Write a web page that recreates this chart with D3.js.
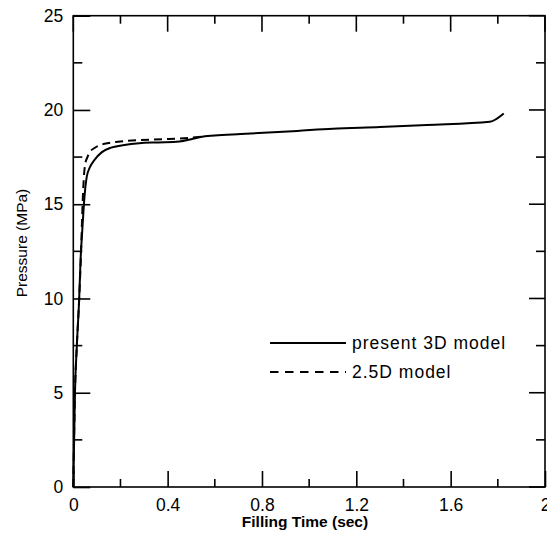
<!DOCTYPE html>
<html>
<head>
<meta charset="utf-8">
<script src="https://cdn.jsdelivr.net/npm/d3@7"></script>
<style>
  body { margin: 0; background: #fff; }
  svg { display: block; font-family: "Liberation Sans", Arial, sans-serif; }
</style>
</head>
<body>
<div class="canva-chart"></div>
<script>
// data
const time3D     = [0, 0.007, 0.015, 0.025, 0.031, 0.038, 0.045, 0.052, 0.057, 0.07, 0.09, 0.12, 0.16, 0.21, 0.28, 0.36, 0.45, 0.5, 0.54, 0.6, 0.71, 0.95, 1.1, 1.3, 1.5, 1.766, 1.825];
const pressure3D = [0, 5, 7.5, 10, 12.1, 13.6, 15, 16, 16.45, 16.95, 17.35, 17.75, 18.0, 18.13, 18.24, 18.28, 18.33, 18.45, 18.57, 18.64, 18.72, 18.89, 19.0, 19.09, 19.2, 19.37, 19.81];

const time25D     = [0, 0.007, 0.015, 0.025, 0.033, 0.038, 0.042, 0.05, 0.06, 0.071, 0.09, 0.113, 0.15, 0.2, 0.28, 0.38, 0.49, 0.56];
const pressure25D = [0, 5, 7.5, 10, 12.5, 14.5, 15.8, 17.1, 17.5, 17.78, 17.98, 18.13, 18.25, 18.33, 18.4, 18.45, 18.52, 18.6];

const xTicksMajor = [0, 0.4, 0.8, 1.2, 1.6, 2];
const xTicksMinor = [0.2, 0.6, 1.0, 1.4, 1.8];
const yTicksMajor = [0, 5, 10, 15, 20, 25];
const yTicksMinor = [2.5, 7.5, 12.5, 17.5, 22.5];

const legendLabels = ["present 3D model", "2.5D model"];

const width = 547, height = 539;
const margin = {top: 15.7, right: 2, bottom: 52, left: 73.3};
const fontFam = "'Liberation Sans', Arial, sans-serif";

const svg = d3.select(".canva-chart").append("svg")
    .attr("width", width)
    .attr("height", height);

const x = d3.scaleLinear().domain([0, 2]).range([margin.left, width - margin.right]);
const y = d3.scaleLinear().domain([0, 25]).range([height - margin.bottom, margin.top]);

// frame
svg.append("rect")
    .attr("x", x(0)).attr("y", y(25))
    .attr("width", x(2) - x(0)).attr("height", y(0) - y(25))
    .attr("fill", "none").attr("stroke", "#000").attr("stroke-width", 1.6);

// bottom axis with labels, ticks pointing inward
const xAxis = svg.append("g")
    .attr("transform", `translate(0,${y(0)})`)
    .call(d3.axisBottom(x).tickValues(xTicksMajor).tickSize(-16).tickPadding(11.5)
        .tickFormat(d => d3.format("")(d)));

// left axis with labels
const yAxis = svg.append("g")
    .attr("transform", `translate(${x(0)},0)`)
    .call(d3.axisLeft(y).tickValues(yTicksMajor).tickSize(-17).tickPadding(10));

[xAxis, yAxis].forEach(g => {
  g.attr("font-family", fontFam).attr("font-size", 17.5);
  g.select(".domain").remove();
  g.selectAll("line").attr("stroke", "#000").attr("stroke-width", 1.6);
  g.selectAll("text").attr("fill", "#000");
});

// minor ticks and mirrored ticks on top and right
const tickG = svg.append("g").attr("stroke", "#000").attr("stroke-width", 1.6);
function xTicks(vals, len) {
  tickG.selectAll(null).data(vals).join("line")
      .attr("x1", d => x(d)).attr("x2", d => x(d))
      .attr("y1", y(0)).attr("y2", y(0) - len);
  tickG.selectAll(null).data(vals).join("line")
      .attr("x1", d => x(d)).attr("x2", d => x(d))
      .attr("y1", y(25)).attr("y2", y(25) + len);
}
function yTicks(vals, len) {
  tickG.selectAll(null).data(vals).join("line")
      .attr("x1", x(0)).attr("x2", x(0) + len)
      .attr("y1", d => y(d)).attr("y2", d => y(d));
  tickG.selectAll(null).data(vals).join("line")
      .attr("x1", x(2)).attr("x2", x(2) - len)
      .attr("y1", d => y(d)).attr("y2", d => y(d));
}
xTicks(xTicksMinor, 8);
yTicks(yTicksMinor, 9);
// mirrored majors on top / right (bottom/left already drawn by the axes)
tickG.selectAll(null).data(xTicksMajor).join("line")
    .attr("x1", d => x(d)).attr("x2", d => x(d))
    .attr("y1", y(25)).attr("y2", y(25) + 16);
tickG.selectAll(null).data(yTicksMajor).join("line")
    .attr("x1", x(2)).attr("x2", x(2) - 16)
    .attr("y1", d => y(d)).attr("y2", d => y(d));

// axis titles
svg.append("text")
    .attr("x", 305).attr("y", 527)
    .attr("text-anchor", "middle")
    .style("font-size", "15.5px").style("font-weight", "bold")
    .text("Filling Time (sec)");

svg.append("text")
    .attr("transform", "translate(27,243) rotate(-90)")
    .attr("text-anchor", "middle")
    .style("font-size", "15.5px")
    .text("Pressure (MPa)");

// curves
const line = d3.line()
    .x(d => x(d[0]))
    .y(d => y(d[1]))
    .curve(d3.curveMonotoneX);

svg.append("path")
    .datum(d3.zip(time3D, pressure3D))
    .attr("fill", "none").attr("stroke", "#000").attr("stroke-width", 2)
    .attr("d", line);

svg.append("path")
    .datum(d3.zip(time25D, pressure25D))
    .attr("fill", "none").attr("stroke", "#000").attr("stroke-width", 2)
    .attr("stroke-dasharray", "8,5")
    .attr("d", line);

// legend
const legend = svg.append("g");
const legendY = [343, 372];
legendLabels.forEach((lab, i) => {
  legend.append("line")
      .attr("x1", 270).attr("x2", 346)
      .attr("y1", legendY[i]).attr("y2", legendY[i])
      .attr("stroke", "#000").attr("stroke-width", 2)
      .attr("stroke-dasharray", i === 1 ? "8.5,6.5" : null);
  legend.append("text")
      .attr("x", 352).attr("y", legendY[i])
      .attr("dy", "0.36em")
      .style("font-size", "17.5px")
      .style("letter-spacing", "1px")
      .text(lab);
});
</script>
</body>
</html>
